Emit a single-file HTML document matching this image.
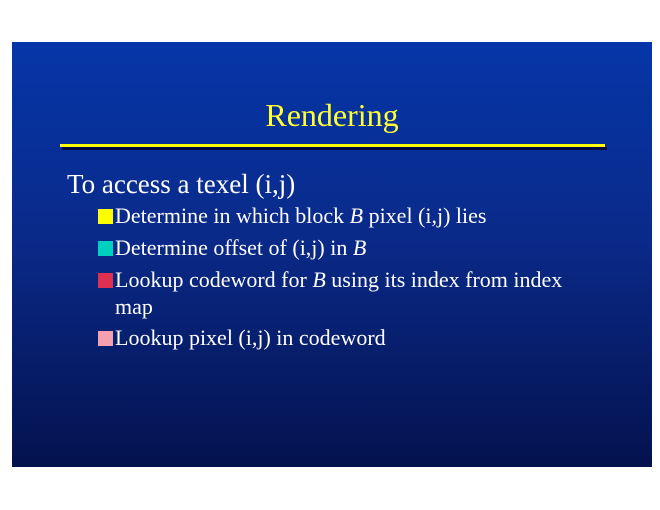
<!DOCTYPE html>
<html><head><style>
html,body{margin:0;padding:0;width:660px;height:510px;background:#fff;overflow:hidden}
#s{position:absolute;left:12px;top:42px;width:640px;height:425px;background:linear-gradient(180deg,#0536a8 0%,#0a2a8a 45%,#04124e 100%);font-family:"Liberation Serif",serif;color:#fff}
.t{position:absolute;left:0;width:640px;top:55px;text-align:center;color:#ffff33;font-size:32px;line-height:36px}
.ln{position:absolute;left:48px;top:102px;width:545px;height:3px;background:#ffff00;box-shadow:2px 3px 0 #000a40}
.p{position:absolute;white-space:nowrap}
.m{left:55px;top:126px;font-size:27px;line-height:32px}
.b{left:86px;font-size:22px;line-height:26px}
.sq{display:inline-block;width:15px;height:15px;margin-right:2px;vertical-align:-1px}
</style></head><body>
<div id="s">
<div class="t">Rendering</div>
<div class="ln"></div>
<div class="p m">To access a texel (i,j)</div>
<div class="p b" style="top:161px"><span class="sq" style="background:#ffff00"></span>Determine in which block <i>B</i> pixel (i,j) lies</div>
<div class="p b" style="top:193px"><span class="sq" style="background:#00d0c0"></span>Determine offset of (i,j) in <i>B</i></div>
<div class="p b" style="top:225px"><span class="sq" style="background:#e03050"></span>Lookup codeword for <i>B</i> using its index from index</div>
<div class="p b" style="top:252px;left:103px">map</div>
<div class="p b" style="top:283px"><span class="sq" style="background:#f4a0b0"></span>Lookup pixel (i,j) in codeword</div>
</div>
</body></html>
